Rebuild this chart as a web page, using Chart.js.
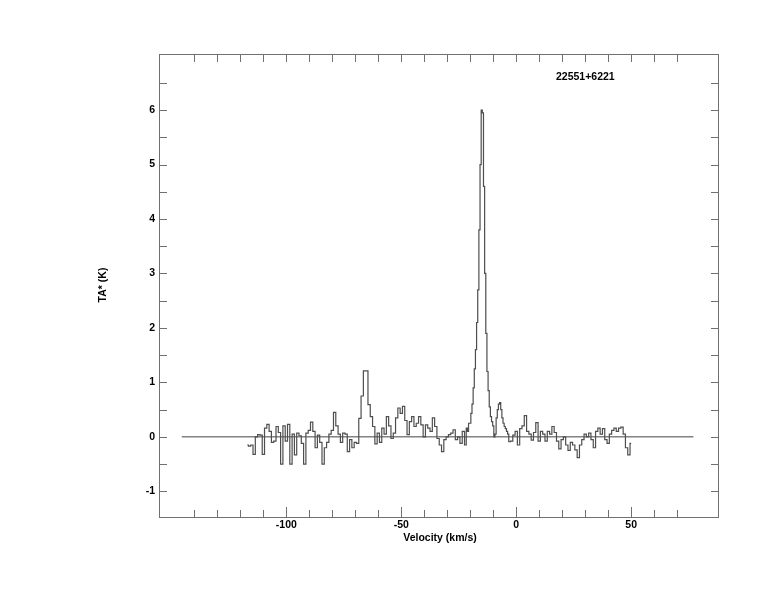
<!DOCTYPE html>
<html>
<head>
<meta charset="utf-8">
<title>22551+6221</title>
<script src="https://cdn.jsdelivr.net/npm/chart.js@4.4.0/dist/chart.umd.min.js"></script>
<style>
  html, body { margin: 0; padding: 0; background: #fff; }
  #wrap { width: 774px; height: 612px; position: relative; }
</style>
</head>
<body>
<div id="wrap"><canvas id="spectrum"></canvas></div>
<script>
// channel velocities (km/s), finer channels across the main line
const velocity = [
  -117, -116, -115, -114, -113, -112, -111, -110, -109, -108, -107, -106, -105, -104, -103, -102, -101, -100,
  -99, -98, -97, -96, -95, -94, -93, -92, -91, -90, -89, -88, -87, -86, -85, -84, -83, -82, -81, -80,
  -79, -78, -77, -76, -75, -74, -73, -72, -71, -70, -69, -68, -67, -66, -65, -64, -63, -62, -61, -60,
  -59, -58, -57, -56, -55, -54, -53, -52, -51, -50, -49, -48, -47, -46, -45, -44, -43, -42, -41, -40,
  -39, -38, -37, -36, -35, -34, -33, -32, -31, -30, -29, -28, -27, -26, -25, -24, -23,
  -22, -21.5, -21, -20.5, -20, -19.5, -19, -18.5, -18, -17.5, -17, -16.5, -16, -15.5, -15, -14.5,
  -14, -13.5, -13, -12.5, -12, -11.5, -11, -10.5, -10, -9.5, -9, -8.5, -8, -7.5, -7, -6.5,
  -6, -5.5, -5, -4.5, -4, -3.5, -3,
  -2, -1, 0, 1, 2, 3, 4, 5, 6, 7, 8, 9, 10, 11, 12, 13, 14, 15, 16, 17, 18, 19, 20,
  21, 22, 23, 24, 25, 26, 27, 28, 29, 30, 31, 32, 33, 34, 35, 36, 37, 38, 39, 40,
  41, 42, 43, 44, 45, 46, 47, 48, 49, 50
];

// antenna temperature TA* (K) per channel
const antennaTemp = [
  -0.15, -0.17, -0.15, -0.32, 0.0, 0.04, 0.03, -0.32, 0.16, 0.23, 0.1, -0.1, -0.08, 0.19, 0.08, -0.5, 0.2, -0.08,
  0.23, -0.5, 0.05, -0.33, 0.07, 0.02, -0.12, -0.5, 0.07, 0.12, 0.27, 0.1, -0.2, 0.03, -0.1, -0.5, -0.2, -0.1, 0.05, 0.12,
  0.45, 0.2, 0.05, -0.1, 0.07, 0.05, -0.27, -0.05, -0.2, -0.1, -0.12, 0.34, 0.75, 1.21, 1.21, 0.59, 0.37, 0.19, -0.13, 0.07,
  -0.1, 0.16, 0.05, 0.37, 0.2, -0.03, 0.07, 0.35, 0.53, 0.43, 0.56, 0.3, 0.04, 0.28, 0.37, 0.19, 0.25, 0.37, 0.22, 0.0,
  0.22, 0.16, 0.1, 0.35, 0.19, -0.03, -0.15, -0.27, -0.05, 0.0, 0.04, 0.07, 0.13, -0.05, 0.0, -0.12, 0.1,
  -0.15, 0.16, 0.1, 0.25, 0.25, 0.43, 0.6, 0.9, 1.25, 1.6, 2.1, 2.7, 3.8, 5.0, 6.0, 5.95,
  4.6, 3.0, 1.9, 1.2, 0.85, 0.55, 0.37, 0.28, 0.2, 0.0, 0.05, 0.35, 0.5, 0.6, 0.63, 0.5,
  0.35, 0.25, 0.19, 0.15, 0.1, 0.05, -0.09,
  -0.08, 0.03, 0.1, -0.15, 0.15, 0.2, 0.39, 0.1, 0.05, -0.06, 0.08, 0.26, -0.08, 0.1, 0.05, -0.08, 0.1, 0.05, 0.19, 0.08, -0.08, -0.22, -0.05,
  0.0, -0.15, -0.25, -0.1, -0.15, -0.24, -0.38, -0.15, -0.05, 0.05, 0.0, 0.07, -0.05, -0.2, 0.1, 0.16, 0.05, 0.15, -0.05, -0.12,
  0.05, 0.12, 0.16, 0.1, 0.16, 0.18, 0.05, -0.2, -0.33, -0.12
];

// fitted zero baseline
const baselineVel = [-145.5, 77.1];
const baselineTemp = [0, 0];

const xTickLabels = [-100, -50, 0, 50];
const yTickLabels = [-1, 0, 1, 2, 3, 4, 5, 6];
const sourceName = '22551+6221';

const labelFont = { family: 'Liberation Sans', size: 10.5, weight: 'bold' };

// frame, inward tick marks and the extra texts
const framePlugin = {
  id: 'frame',
  afterDraw(chart) {
    const { ctx, chartArea: a, scales: { x, y } } = chart;
    ctx.save();
    ctx.strokeStyle = '#707070';
    ctx.lineWidth = 1;
    ctx.strokeRect(a.left + 0.5, a.top + 0.5, a.right - a.left - 1, a.bottom - a.top - 1);

    ctx.beginPath();
    for (let v = -140; v <= 70; v += 10) {
      const px = Math.round(x.getPixelForValue(v)) + 0.5;
      const len = v % 50 === 0 ? 11 : 8;
      ctx.moveTo(px, a.bottom); ctx.lineTo(px, a.bottom - len);
      ctx.moveTo(px, a.top); ctx.lineTo(px, a.top + 8);
    }
    for (let v = -1; v <= 6.5; v += 0.5) {
      const py = Math.round(y.getPixelForValue(v)) + 0.5;
      ctx.moveTo(a.left, py); ctx.lineTo(a.left + 8, py);
      ctx.moveTo(a.right, py); ctx.lineTo(a.right - 8, py);
    }
    ctx.stroke();

    ctx.fillStyle = '#000';
    ctx.font = 'bold 10.5px "Liberation Sans", Arial, sans-serif';
    ctx.textBaseline = 'middle';
    ctx.textAlign = 'left';
    ctx.fillText(sourceName, 556, 77);

    ctx.textAlign = 'center';
    ctx.fillText('Velocity (km/s)', 440, 538);

    ctx.translate(103, 285);
    ctx.rotate(-Math.PI / 2);
    ctx.fillText('TA* (K)', 0, 0);
    ctx.restore();
  }
};

new Chart(document.getElementById('spectrum'), {
  type: 'line',
  data: {
    datasets: [
      {
        data: velocity.map((v, i) => ({ x: v, y: antennaTemp[i] })),
        stepped: 'middle',
        borderColor: '#4e4e4e',
        borderWidth: 1.2,
        pointRadius: 0,
        fill: false
      },
      {
        data: baselineVel.map((v, i) => ({ x: v, y: baselineTemp[i] })),
        borderColor: '#444',
        borderWidth: 1,
        pointRadius: 0,
        fill: false
      }
    ]
  },
  options: {
    responsive: true,
    maintainAspectRatio: false,
    animation: false,
    layout: { padding: { left: 0, right: 55, top: 54, bottom: 0 } },
    plugins: { legend: { display: false }, tooltip: { enabled: false } },
    scales: {
      x: {
        type: 'linear',
        min: -155.4,
        max: 88.2,
        grid: { display: false, drawTicks: false },
        border: { display: false },
        afterFit: s => { s.height = 94; },
        ticks: {
          stepSize: 50,
          autoSkip: false,
          maxRotation: 0,
          padding: 1,
          color: '#000',
          font: labelFont,
          callback: v => xTickLabels.includes(v) ? String(v) : ''
        }
      },
      y: {
        type: 'linear',
        min: -1.49,
        max: 7.03,
        grid: { display: false, drawTicks: false },
        border: { display: false },
        afterFit: s => { s.width = 159; },
        ticks: {
          stepSize: 1,
          autoSkip: false,
          padding: 4,
          color: '#000',
          font: labelFont,
          callback: v => yTickLabels.includes(v) ? String(v) : ''
        }
      }
    }
  },
  plugins: [framePlugin]
});
</script>
</body>
</html>
